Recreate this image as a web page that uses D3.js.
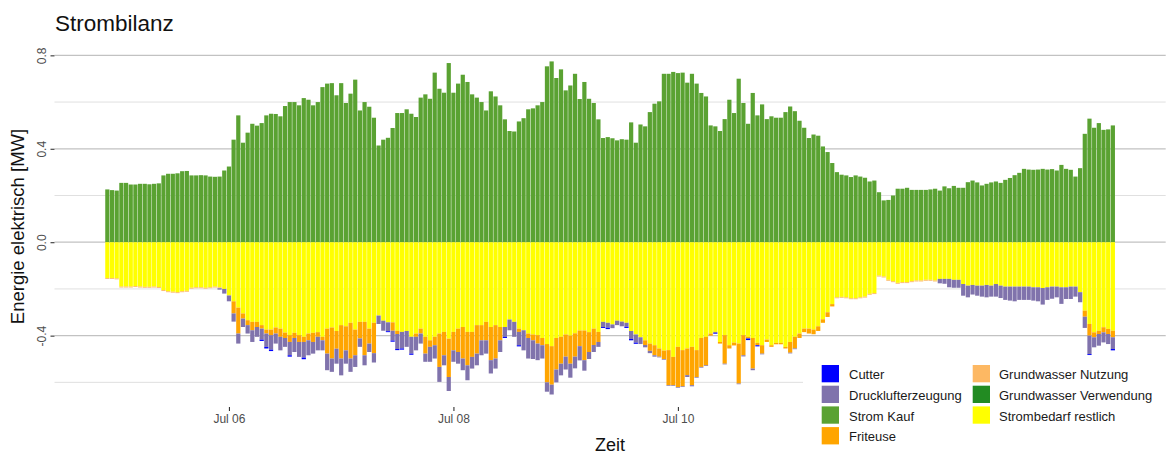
<!DOCTYPE html>
<html><head><meta charset="utf-8">
<script src="https://cdn.jsdelivr.net/npm/d3@7"></script>
<style>body{margin:0;background:#fff;} svg{display:block;font-family:"Liberation Sans",Arial,sans-serif;}</style>
</head><body><svg id="c" width="1168" height="457"></svg>
<script>
// ---------------- data ----------------
const titleText = "Strombilanz";
const yTitle = "Energie elektrisch [MW]";
const xTitle = "Zeit";
const legendNames = ["Cutter","Drucklufterzeugung","Strom Kauf","Friteuse","Grundwasser Nutzung","Grundwasser Verwendung","Strombedarf restlich"];
const legendColors = ["#0000ff","#8073ac","#5aa232","#ffa500","#fdb863","#228b22","#ffff00"];
const startTime = "2023-07-04T22:00:00Z";   // first hourly bar (UTC)
const yTicks = [-0.4, 0, 0.4, 0.8];
const yMinorTicks = [-0.6, -0.2, 0.2, 0.6];
const xTickDates = ["2023-07-06","2023-07-08","2023-07-10"];   // Jul 12 is hidden behind the legend in the reference

const stromKauf = [
.226,.223,.221,.254,.254,.247,.247,.25,.25,.248,.25,.252,
.286,.293,.293,.295,.304,.305,.286,.286,.287,.286,.281,.28,
.281,.307,.324,.439,.543,.426,.469,.507,.499,.51,.543,.55,
.549,.539,.583,.60,.60,.586,.617,.61,.586,.60,.664,.679,
.681,.629,.681,.596,.636,.696,.564,.60,.58,.533,.414,.439,
.447,.489,.553,.553,.569,.55,.536,.619,.633,.614,.726,.657,
.64,.767,.64,.679,.717,.686,.633,.619,.60,.564,.646,.624,
.586,.526,.476,.474,.517,.531,.569,.573,.586,.60,.753,.774,
.703,.74,.65,.671,.721,.613,.686,.614,.596,.526,.446,.45,
.445,.436,.441,.439,.513,.426,.504,.496,.557,.593,.603,.721,
.721,.729,.724,.726,.683,.721,.679,.639,.624,.50,.496,.476,
.527,.61,.553,.70,.596,.507,.639,.543,.59,.527,.539,.533,
.533,.557,.581,.561,.52,.49,.446,.461,.456,.41,.386,.339,
.30,.289,.286,.279,.286,.281,.276,.26,.264,.214,.179,.181,
.20,.229,.229,.233,.224,.224,.224,.224,.226,.229,.221,.239,
.231,.241,.233,.233,.257,.264,.256,.243,.25,.256,.26,.254,
.267,.275,.287,.297,.314,.311,.31,.311,.314,.311,.313,.307,
.331,.314,.31,.281,.317,.464,.529,.49,.51,.481,.483,.50];

const strombedarfRestlich = [
-.153,-.153,-.155,-.19,-.19,-.19,-.188,-.19,-.191,-.191,-.19,-.192,
-.205,-.21,-.212,-.214,-.21,-.208,-.195,-.193,-.193,-.195,-.193,-.19,
-.193,-.20,-.228,-.253,-.28,-.305,-.334,-.341,-.341,-.355,-.374,-.374,
-.365,-.37,-.387,-.398,-.388,-.398,-.405,-.391,-.388,-.385,-.405,-.37,
-.365,-.38,-.355,-.36,-.345,-.374,-.341,-.341,-.37,-.345,-.314,-.336,
-.343,-.343,-.379,-.384,-.38,-.405,-.391,-.37,-.405,-.42,-.405,-.391,
-.384,-.413,-.384,-.37,-.363,-.384,-.384,-.355,-.355,-.341,-.363,-.355,
-.363,-.363,-.331,-.341,-.37,-.377,-.391,-.395,-.398,-.41,-.436,-.445,
-.41,-.405,-.395,-.40,-.39,-.378,-.378,-.385,-.37,-.384,-.341,-.345,
-.352,-.336,-.34,-.345,-.38,-.395,-.407,-.42,-.434,-.441,-.455,-.464,
-.462,-.491,-.448,-.462,-.455,-.448,-.462,-.41,-.405,-.391,-.384,-.427,
-.398,-.441,-.43,-.434,-.398,-.405,-.41,-.431,-.441,-.417,-.441,-.431,
-.431,-.448,-.427,-.405,-.391,-.37,-.37,-.374,-.36,-.33,-.30,-.265,
-.236,-.234,-.236,-.24,-.24,-.236,-.233,-.221,-.218,-.143,-.147,-.161,
-.167,-.174,-.171,-.171,-.167,-.164,-.164,-.161,-.161,-.164,-.157,-.157,
-.157,-.161,-.161,-.179,-.186,-.183,-.186,-.186,-.183,-.186,-.179,-.186,
-.19,-.19,-.19,-.19,-.19,-.19,-.193,-.193,-.196,-.193,-.19,-.19,
-.193,-.193,-.19,-.19,-.214,-.293,-.35,-.386,-.379,-.364,-.371,-.379];

const grundwasserNutzung = [
-.004,-.004,-.004,-.004,-.004,-.004,-.004,-.004,-.004,-.004,-.004,-.004,
-.004,-.004,-.004,-.004,-.004,-.004,-.004,-.004,-.004,-.004,-.004,-.004,
-.004,0,0,0,0,0,0,0,0,0,0,0,
0,0,0,0,0,0,0,0,0,0,0,0,
0,0,0,0,0,0,0,0,0,0,0,0,
0,0,0,0,0,0,0,0,0,0,0,0,
0,0,0,0,0,0,0,0,0,0,0,0,
0,0,0,0,0,0,0,0,0,0,0,0,
0,0,0,0,0,0,0,0,0,0,0,0,
0,0,0,0,0,0,0,0,0,0,0,0,
0,0,0,0,0,0,0,0,0,0,0,0,
0,0,0,0,0,0,0,0,0,0,0,0,
0,0,0,0,0,0,0,0,0,0,0,0,
-.004,-.004,-.004,-.004,-.004,-.004,-.004,-.004,-.004,-.004,-.004,-.004,
-.004,-.004,-.004,-.004,-.004,-.004,-.004,-.004,-.004,-.004,0,0,
0,0,0,0,0,0,0,0,0,0,0,0,
0,0,0,0,0,0,0,0,0,0,0,0,
0,0,0,0,0,0,0,0,0,0,0,0];

const friteuse = [
0,0,0,0,0,0,0,0,0,0,0,0,
0,0,0,0,0,0,0,0,0,0,0,0,
0,0,0,-.052,-.111,-.022,-.021,-.036,-.022,-.015,-.017,-.024,
-.026,-.035,-.023,-.029,-.022,-.029,-.022,-.029,-.039,-.02,-.015,-.107,
-.133,-.076,-.143,-.103,-.153,-.11,-.071,-.143,-.064,-.13,0,0,
0,-.036,-.014,0,0,0,-.014,-.021,-.072,-.028,-.036,-.143,
-.10,-.164,-.079,-.10,-.135,-.143,-.107,-.122,-.065,-.079,-.142,-.143,
-.057,0,0,0,-.014,0,-.019,-.025,-.036,-.031,-.164,-.165,
-.135,-.115,-.095,-.12,-.10,-.067,-.127,-.085,-.07,-.043,0,0,
0,0,0,0,0,0,0,-.02,-.031,-.043,-.035,-.036,
-.15,-.121,-.172,-.155,-.114,-.164,-.115,-.124,-.122,-.009,0,-.007,
-.122,-.014,-.012,-.171,-.086,-.007,-.131,-.01,-.036,-.01,-.007,-.006,
-.006,-.007,-.046,-.05,-.019,-.015,-.021,-.02,-.02,-.015,-.02,-.01,
0,0,0,0,0,0,0,0,0,0,0,0,
0,0,0,0,0,0,0,0,0,0,0,0,
0,0,0,0,0,0,0,0,0,0,0,0,
0,0,0,0,0,0,0,0,0,0,0,0,
0,0,0,0,0,-.026,-.05,-.021,-.014,-.022,-.022,-.028];

const drucklufterzeugung = [
0,0,0,0,0,0,0,0,0,0,0,0,
0,0,0,0,0,0,0,0,0,0,0,0,
-.006,-.02,-.025,-.035,-.043,-.036,-.036,-.05,-.042,-.047,-.057,-.062,
-.043,-.058,-.038,-.057,-.06,-.064,-.067,-.064,-.05,-.058,-.043,-.071,
-.057,-.064,-.072,-.057,-.057,-.05,-.036,-.043,-.036,-.04,-.036,-.043,
-.038,-.042,-.064,-.071,-.068,-.072,-.058,-.043,-.035,-.064,-.057,-.064,
-.043,-.06,-.049,-.05,-.05,-.064,-.05,-.05,-.064,-.057,-.057,-.043,
-.05,-.042,-.046,-.064,-.057,-.086,-.088,-.08,-.071,-.057,-.04,-.042,
-.055,-.05,-.055,-.06,-.05,-.061,-.045,-.03,-.03,-.021,-.022,-.021,
-.016,-.019,-.02,-.017,-.034,-.035,-.029,-.01,-.01,-.006,-.003,-.003,
-.003,-.003,-.003,-.003,-.008,-.005,-.003,-.003,-.003,0,-.005,0,
-.003,0,0,-.003,-.005,0,-.007,0,-.003,0,0,0,
0,0,-.003,-.003,0,0,0,0,0,0,0,0,
0,0,0,0,0,0,0,0,0,0,0,0,
0,0,0,0,0,0,0,0,0,0,-.019,-.021,
-.036,-.034,-.034,-.05,-.05,-.041,-.043,-.047,-.053,-.047,-.054,-.053,
-.057,-.06,-.063,-.057,-.057,-.057,-.057,-.06,-.071,-.054,-.052,-.046,
-.071,-.05,-.053,-.043,-.043,-.048,-.079,-.043,-.05,-.043,-.043,-.05];

const cutter = [
0,0,0,0,0,0,0,0,0,0,0,0,
0,0,0,0,0,0,0,0,0,0,0,0,
0,0,0,0,0,0,0,0,0,-.006,-.007,-.006,
0,0,0,-.006,0,0,-.007,0,0,0,0,0,
0,0,0,0,0,0,0,0,0,0,0,0,
-.004,-.005,-.005,-.005,0,-.005,0,0,0,0,0,0,
0,0,0,0,0,0,0,0,0,0,0,0,
0,-.005,0,0,-.005,0,0,0,0,0,0,0,
0,0,0,0,0,0,0,0,0,0,-.004,-.006,
0,0,0,-.005,-.006,-.005,0,0,0,0,0,0,
0,0,0,0,0,0,0,0,0,0,-.003,0,
0,0,0,0,0,-.007,0,-.005,0,0,0,0,
0,0,0,0,0,0,0,0,0,0,0,0,
0,0,0,0,0,0,0,0,0,0,0,0,
0,0,0,0,0,0,0,0,0,0,0,0,
0,0,0,0,0,0,0,0,0,0,0,0,
0,0,0,0,0,0,0,0,0,0,0,0,
0,0,0,0,0,0,-.004,0,0,0,0,-.006];

// ---------------- chart ----------------
const svg = d3.select("#c");
const W = 1168, H = 457;
const HOUR = 3600e3;
const t0 = Date.parse(startTime);
const times = stromKauf.map((_, i) => new Date(t0 + i * HOUR));
const colorOf = name => legendColors[legendNames.indexOf(name)];

const panel = {left: 54.5, right: 1165.7, top: 46, bottom: 407};
const x = d3.scaleUtc()
  .domain([new Date(t0 - 11.3 * HOUR), new Date(t0 + (times.length - 1 + 11.3) * HOUR)])
  .range([panel.left, panel.right]);
const y = d3.scaleLinear().domain([-0.7055, 0.84]).range([panel.bottom, panel.top]);

// grid
const grid = svg.append("g");
grid.selectAll("line.minor").data(yMinorTicks).join("line")
  .attr("x1", panel.left).attr("x2", panel.right)
  .attr("y1", d => y(d)).attr("y2", d => y(d))
  .attr("stroke", "#dcdcdc").attr("stroke-width", 0.9);
grid.selectAll("line.major").data(yTicks).join("line")
  .attr("x1", panel.left).attr("x2", panel.right)
  .attr("y1", d => y(d)).attr("y2", d => y(d))
  .attr("stroke", "#c2c2c2").attr("stroke-width", 1.2);

// stacked bars
const seriesMap = {
  "Strom Kauf": stromKauf,
  "Strombedarf restlich": strombedarfRestlich,
  "Grundwasser Nutzung": grundwasserNutzung,
  "Friteuse": friteuse,
  "Drucklufterzeugung": drucklufterzeugung,
  "Cutter": cutter
};
const stackKeys = Object.keys(seriesMap);
const rows = times.map((t, i) => {
  const r = {t};
  stackKeys.forEach(k => r[k] = seriesMap[k][i]);
  return r;
});
const stacked = d3.stack().keys(stackKeys).offset(d3.stackOffsetDiverging)(rows);
const half = 0.45 * HOUR;
const bars = svg.append("g");
stacked.forEach(s => {
  bars.append("g").attr("fill", colorOf(s.key))
    .selectAll("rect").data(s.filter(d => d[1] !== d[0])).join("rect")
    .attr("x", d => x(new Date(+d.data.t - half)))
    .attr("width", d => x(new Date(+d.data.t + half)) - x(new Date(+d.data.t - half)))
    .attr("y", d => y(d[1]))
    .attr("height", d => y(d[0]) - y(d[1]));
});

// axes
const yAxis = d3.axisLeft(y).tickValues(yTicks).tickFormat(d => d.toFixed(1)).tickSize(4).tickSizeOuter(0);
const gy = svg.append("g").attr("transform", `translate(${panel.left},0)`).call(yAxis);
gy.select(".domain").remove();
gy.selectAll(".tick line").attr("stroke", "#333").attr("stroke-width", 1.1);
gy.selectAll(".tick text")
  .attr("transform", "rotate(-90)").attr("x", 0).attr("y", -9).attr("dy", 0)
  .attr("text-anchor", "middle").attr("fill", "#4d4d4d")
  .style("font-size", "12px").style("font-family", "'Liberation Sans',Arial,sans-serif");

const xAxis = d3.axisBottom(x).tickValues(xTickDates.map(d => new Date(d + "T00:00:00Z")))
  .tickFormat(d3.utcFormat("%b %d")).tickSize(4).tickSizeOuter(0);
const gx = svg.append("g").attr("transform", `translate(0,${panel.bottom})`).call(xAxis);
gx.select(".domain").remove();
gx.selectAll(".tick line").attr("stroke", "#333").attr("stroke-width", 1.1);
gx.selectAll(".tick text").attr("fill", "#4d4d4d").attr("y", 7)
  .style("font-size", "12px").style("font-family", "'Liberation Sans',Arial,sans-serif");

// titles
svg.append("text").attr("x", 55).attr("y", 30.5).attr("fill", "#111")
  .style("font-size", "22.5px").text(titleText);
svg.append("text").attr("transform", `translate(24,${(panel.top + panel.bottom) / 2}) rotate(-90)`)
  .attr("text-anchor", "middle").attr("fill", "#111").style("font-size", "18.5px").text(yTitle);
svg.append("text").attr("x", (panel.left + panel.right) / 2).attr("y", 451)
  .attr("text-anchor", "middle").attr("fill", "#111").style("font-size", "18px").text(xTitle);

// legend (inside, bottom right, white background)
const lg = svg.append("g");
lg.append("rect").attr("x", 803).attr("y", 356).attr("width", W - 803).attr("height", H - 356).attr("fill", "#fff");
const keySize = 17.3, rowStep = 20.7;
const colX = [821.7, 972.7], labX = [849, 999];
legendNames.forEach((name, i) => {
  const col = Math.floor(i / 4), row = i % 4;
  const ky = 365 + row * rowStep;
  lg.append("rect").attr("x", colX[col]).attr("y", ky).attr("width", keySize).attr("height", keySize)
    .attr("fill", legendColors[i]);
  lg.append("text").attr("x", labX[col]).attr("y", ky + 14.2).attr("fill", "#1a1a1a")
    .style("font-size", "13px").text(name);
});
</script></body></html>
